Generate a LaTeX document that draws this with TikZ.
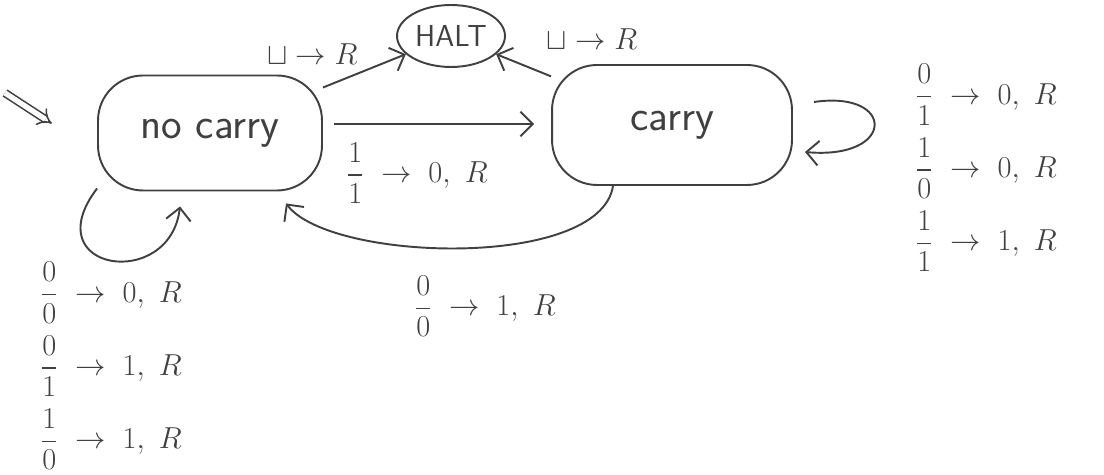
\documentclass[tikz,border=0pt]{standalone}
\usepackage{amsmath}
\usepackage{tikz}
\usetikzlibrary{shapes.geometric,arrows.meta}
\tikzstyle{state} = [rectangle, rounded corners=0.9cm, draw=black!75, line width=1.1pt, text=black!75, font=\sffamily\Huge, inner sep=0pt]
\tikzstyle{haltstate} = [ellipse, draw=black!75, line width=1.1pt, minimum width=2.16cm, minimum height=1.24cm, inner sep=0pt, text=black!75, font=\sffamily\LARGE]
\tikzstyle{arrow} = [line width=1.1pt, draw=black!75, ->, >={Straight Barb[length=7pt,width=14pt]}]
\tikzstyle{trans} = [text=black!75, font=\LARGE, align=left, inner sep=0pt]

\newcommand{\tr}[3]{$\dfrac{#1}{#2}\;\to\;#3,\ R$}

\begin{document}
\begin{tikzpicture}[x=0.02cm, y=-0.02cm]
\useasboundingbox (0,0) rectangle (1104,475);
\node (nocarry) [state, minimum width=4.48cm, minimum height=2.3cm] at (210,133) {no carry};
\node (carry) [state, minimum width=4.8cm, minimum height=2.4cm] at (672,125) {carry};
\node (halt) [haltstate] at (451,36) {HALT};
\coordinate (init) at (5,93);

% start marker
\draw [double, double distance=3pt, line width=0.9pt, draw=black!75, -{Implies}, shorten >=1.08cm] (init) -- (nocarry.190);

\draw [arrow] (nocarry) -- (halt) node [midway, above left, text=black!75, font=\LARGE] {$\sqcup\to R$};
\draw [arrow] (carry) -- (halt) node [pos=0.2, above right, yshift=9pt, text=black!75, font=\LARGE] {$\sqcup\to R$};
\draw [arrow, shorten <=0.22cm, shorten >=0.34cm] ([yshift=0.18cm]nocarry.east) -- ([yshift=0.18cm]nocarry.east -| carry.west)
  node [midway, below=10pt, trans, xshift=-0.4cm] {\tr{1}{1}{0}};
\draw [arrow, shorten >=0.3cm] ([shift={(-59,0)}]carry.south) .. controls (600,270) and (330,262) .. ([shift={(67,0)}]nocarry.south)
  node [midway, below=16pt, trans, xshift=0.5cm] {\tr{0}{0}{1}};

% self loops
\draw [arrow] ([shift={(21,-23)}]carry.east) .. controls +(82,-12) and +(91,8) .. ([shift={(12,27)}]carry.east);
\draw [arrow] ([shift={(0,-3)}]nocarry.south west) .. controls +(-63,83) and +(-10,85) .. ([shift={(-30,15)}]nocarry.south);

\node (carryrules) [trans, anchor=west] at (915,168) {\tr{0}{1}{0}\\[6pt] \tr{1}{0}{0}\\[6pt] \tr{1}{1}{1}};
\node (nocarryrules) [trans, anchor=west] at (40,366) {\tr{0}{0}{0}\\[6pt] \tr{0}{1}{1}\\[6pt] \tr{1}{0}{1}};
\end{tikzpicture}
\end{document}
